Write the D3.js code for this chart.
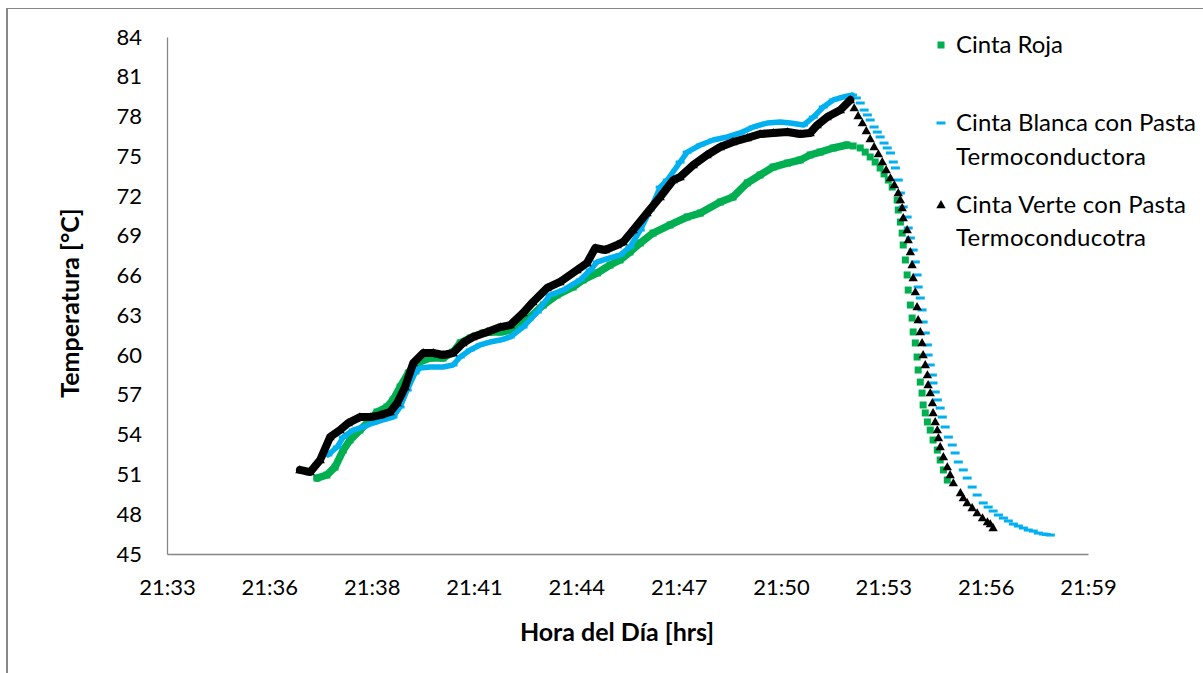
<!DOCTYPE html>
<html>
<head>
<meta charset="utf-8">
<script src="https://cdn.jsdelivr.net/npm/d3@7"></script>
<style>
  html, body { margin: 0; padding: 0; background: #fff; }
  svg { display: block; }
  text { font-family: Lato, "Open Sans", sans-serif; fill: #000; }
</style>
</head>
<body>
<svg id="chart" width="1203" height="673"></svg>
<script>
// ---- Data (time = minutes after 21:00, temperature in °C) ----
const rojaTime = [37.34,37.62,37.85,38.08,38.27,38.55,38.84,39.03,39.31,39.48,39.68,39.91,40.16,40.52,40.89,41.17,41.37,41.65,42.02,42.21,42.50,42.86,43.34,43.71,44.10,44.55,44.83,45.23,45.59,45.87,46.15,46.44,46.80,47.28,47.76,48.13,48.69,49.05,49.45,49.81,50.18,50.58,50.94,51.22,51.50,51.87,52.26,52.43,52.63,52.77,52.91,53.05,53.19,53.30,53.42,53.53,53.67,53.70,53.76,53.81,53.84,53.90,53.95,53.98,54.04,54.09,54.12,54.18,54.23,54.26,54.32,54.37,54.40,54.46,54.52,54.60,54.68,54.80,54.88,54.97,55.08];
const rojaTemp = [50.73,50.96,51.56,52.84,53.60,54.35,55.11,55.71,56.09,56.62,57.60,58.65,59.41,59.78,59.78,60.24,60.92,61.29,61.67,61.75,61.75,61.90,62.88,63.78,64.54,65.14,65.67,66.20,66.80,67.18,67.78,68.46,69.21,69.82,70.42,70.72,71.55,71.93,72.99,73.59,74.19,74.49,74.72,75.10,75.32,75.63,75.85,75.78,75.63,75.32,74.95,74.57,74.12,73.67,73.21,72.68,71.70,70.95,70.04,69.21,68.31,67.18,66.05,64.91,63.78,62.80,61.75,60.92,59.86,58.88,57.97,57.14,56.24,55.64,54.96,54.35,53.60,52.84,52.09,51.34,50.58];

const blancaTime = [37.65,37.91,38.08,38.36,38.64,38.92,39.20,39.48,39.68,39.88,40.10,40.24,40.52,40.89,41.17,41.37,41.65,41.93,42.21,42.50,42.78,43.14,43.54,43.90,44.27,44.75,45.03,45.23,45.59,45.87,46.15,46.44,46.72,47.00,47.20,47.56,47.76,48.13,48.49,48.89,49.25,49.62,50.01,50.38,50.66,51.03,51.31,51.59,51.87,52.15,52.41,52.52,52.63,52.74,52.83,52.91,53.02,53.11,53.19,53.30,53.39,53.48,53.56,53.62,53.70,53.76,53.84,53.95,53.98,54.04,54.12,54.18,54.23,54.26,54.32,54.37,54.40,54.46,54.52,54.54,54.60,54.66,54.68,54.74,54.80,54.88,54.94,55.02,55.11,55.22,55.30,55.39,55.53,55.64,55.78,55.92,56.09,56.23,56.37,56.52,56.66,56.80,56.94,57.08,57.22,57.36,57.50,57.64,57.78,57.87,57.98];
const blancaTemp = [52.47,53.07,53.82,54.35,54.58,54.88,55.11,55.33,56.09,57.37,58.65,59.03,59.11,59.11,59.26,59.86,60.39,60.77,60.99,61.14,61.37,62.12,63.25,64.54,64.91,65.67,66.42,67.03,67.33,67.55,68.16,69.44,70.95,72.68,73.21,74.57,75.32,75.85,76.23,76.46,76.76,77.21,77.51,77.59,77.51,77.36,77.96,78.72,79.25,79.47,79.62,79.40,79.02,78.49,78.12,77.74,77.21,76.83,76.46,76.00,75.63,75.25,74.57,74.12,73.21,72.23,71.18,70.42,69.59,68.84,67.93,67.03,66.05,65.14,64.31,63.41,62.50,61.67,60.77,60.01,59.26,58.50,57.90,57.22,56.62,56.01,55.33,54.58,53.82,53.22,52.62,51.94,51.34,50.73,50.05,49.45,48.85,48.54,48.24,47.94,47.71,47.49,47.26,47.11,46.96,46.81,46.73,46.58,46.51,46.47,46.43];

const verteTime = [36.86,37.15,37.43,37.71,37.99,38.22,38.55,38.84,39.12,39.40,39.60,39.82,40.05,40.33,40.61,40.89,41.17,41.45,41.73,42.13,42.50,42.78,43.14,43.42,43.82,44.18,44.66,44.94,45.17,45.45,45.79,45.96,46.24,46.63,47.00,47.37,47.56,47.93,48.32,48.69,49.05,49.45,49.81,50.18,50.58,50.94,51.22,51.42,51.70,52.07,52.35,52.46,52.57,52.69,52.80,52.91,53.02,53.14,53.25,53.36,53.48,53.59,53.70,53.76,53.81,53.84,53.95,53.98,54.04,54.09,54.12,54.18,54.23,54.26,54.32,54.37,54.40,54.46,54.52,54.54,54.60,54.66,54.68,54.74,54.80,54.83,54.88,54.97,55.08,55.16,55.25,55.45,55.53,55.64,55.78,55.92,56.07,56.21,56.29,56.37];
const verteTemp = [51.34,51.18,52.09,53.82,54.35,54.88,55.33,55.33,55.48,55.71,56.39,57.60,59.41,60.16,60.16,60.01,60.16,60.92,61.37,61.75,62.12,62.27,63.18,64.01,65.07,65.52,66.42,66.95,68.08,67.93,68.31,68.54,69.44,70.72,71.93,73.21,73.44,74.34,75.10,75.70,76.08,76.38,76.68,76.76,76.83,76.68,76.76,77.36,77.96,78.49,79.25,78.64,78.04,77.51,76.91,76.31,75.70,75.17,74.57,73.97,73.36,72.83,72.23,71.70,71.10,70.35,69.44,68.69,67.78,66.80,65.82,64.76,63.63,62.65,61.75,60.92,60.01,59.26,58.50,57.75,57.14,56.39,55.64,54.96,54.35,53.75,53.07,52.32,51.56,50.96,50.35,49.60,49.22,48.85,48.47,48.09,47.71,47.41,47.26,46.96];

const seriesNames = ["Cinta Roja", "Cinta Blanca con Pasta Termoconductora", "Cinta Verte con Pasta Termoconducotra"];
const xTickValues = [33.12, 36.00, 38.88, 41.76, 44.64, 47.52, 50.40, 53.28, 56.16, 59.04];
const xTickLabels = ["21:33","21:36","21:38","21:41","21:44","21:47","21:50","21:53","21:56","21:59"];
const yTickValues = [45,48,51,54,57,60,63,66,69,72,75,78,81,84];

// ---- Layout ----
const svg = d3.select("#chart");
const plotL = 167, plotR = 1088, plotT = 37, plotB = 554;
const x = d3.scaleLinear().domain([33.12, 59.04]).range([plotL, plotR]);
const y = d3.scaleLinear().domain([45, 84]).range([plotB, plotT]);

// outer frame (only top and left edges visible)
svg.append("line").attr("x1", 7).attr("x2", 1203).attr("y1", 8.5).attr("y2", 8.5)
  .attr("stroke", "#888").attr("stroke-width", 1.2);
svg.append("line").attr("x1", 7).attr("x2", 7).attr("y1", 8).attr("y2", 673)
  .attr("stroke", "#888").attr("stroke-width", 2);

// axes
const yAxis = d3.axisLeft(y).tickValues(yTickValues).tickSize(0).tickPadding(25);
const gy = svg.append("g").attr("transform", `translate(${plotL},0)`).call(yAxis);
gy.select(".domain").attr("stroke", "#868686").attr("stroke-width", 1.3);
gy.selectAll("text").style("font-size", "22px").style("font-family", "Lato");

const xAxis = d3.axisBottom(x).tickValues(xTickValues).tickSize(0).tickPadding(25)
  .tickFormat((d, i) => xTickLabels[i]);
const gx = svg.append("g").attr("transform", `translate(0,${plotB})`).call(xAxis);
gx.select(".domain").attr("stroke", "#868686").attr("stroke-width", 1.3);
gx.selectAll("text").style("font-size", "22px").style("font-family", "Lato");

// axis titles
svg.append("text").attr("transform", "translate(79,303) rotate(-90)")
  .attr("text-anchor", "middle").style("font-size", "25px").style("font-weight", "bold")
  .text("Temperatura [°C]");
svg.append("text").attr("x", 617).attr("y", 641)
  .attr("text-anchor", "middle").style("font-size", "25px").style("font-weight", "bold")
  .text("Hora del Día [hrs]");

// series
const series = [
  { t: rojaTime, v: rojaTemp, color: "#00B050", lw: 7.5, shape: "square" },
  { t: blancaTime, v: blancaTemp, color: "#00B0F0", lw: 5.5, shape: "dash" },
  { t: verteTime, v: verteTemp, color: "#000000", lw: 8, shape: "triangle" }
];
const line = d3.line().x(d => x(d[0])).y(d => y(d[1])).curve(d3.curveLinear);
const plot = svg.append("g");

function drawMarker(g, shape, color, cx, cy) {
  if (shape === "square") {
    g.append("rect").attr("x", cx - 3.5).attr("y", cy - 3.5).attr("width", 7).attr("height", 7).attr("fill", color);
  } else if (shape === "dash") {
    g.append("rect").attr("x", cx - 4.5).attr("y", cy - 1.5).attr("width", 9).attr("height", 3).attr("fill", color);
  } else {
    g.append("path").attr("d", d3.symbol().type(d3.symbolTriangle).size(38)()).attr("transform", `translate(${cx},${cy + 0.5})`).attr("fill", color);
  }
}

series.forEach(s => {
  const pts = s.t.map((t, i) => [t, s.v[i]]);
  const peak = d3.maxIndex(s.v);
  const g = plot.append("g");
  g.append("path").datum(pts.slice(0, peak + 1)).attr("d", line)
    .attr("fill", "none").attr("stroke", s.color).attr("stroke-width", s.lw)
    .attr("stroke-linejoin", "round").attr("stroke-linecap", "round");
  pts.forEach(p => drawMarker(g, s.shape, s.color, x(p[0]), y(p[1])));
});

// legend
const legendY = [[45], [123, 157], [205, 238]];
const legendLines = [["Cinta Roja"], ["Cinta Blanca con Pasta", "Termoconductora"], ["Cinta Verte con Pasta", "Termoconducotra"]];
const legendWidths = [[107], [240, 190], [230, 190]];
series.forEach((s, i) => {
  const g = svg.append("g");
  drawMarker(g, s.shape, s.color, 941, legendY[i][0]);
  legendLines[i].forEach((txt, j) => {
    g.append("text").attr("x", 956).attr("y", legendY[i][j]).attr("dy", "0.35em")
      .attr("textLength", legendWidths[i][j]).attr("lengthAdjust", "spacing")
      .style("font-size", "24px").text(txt);
  });
});
</script>
</body>
</html>
